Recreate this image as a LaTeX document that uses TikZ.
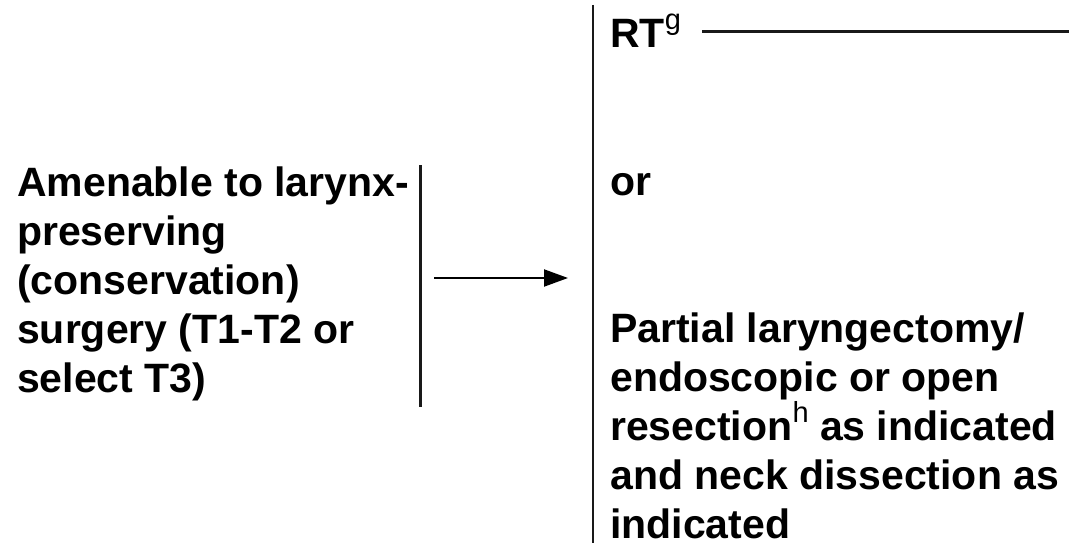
\documentclass[tikz,border=0pt]{standalone}
\usepackage{fontspec}
\setmainfont{Liberation Sans}
\usetikzlibrary{arrows.meta}
\newcommand{\supx}[1]{\raisebox{18pt}{\fontsize{29}{29}\selectfont\mdseries #1}}
\tikzset{
  txt/.style={anchor=base west, inner sep=0pt, align=left,
    font=\fontsize{41}{49}\selectfont\bfseries},
  rule/.style={line width=2.2pt, draw=black!90},
  arr/.style={line width=2pt, -{Triangle[length=24pt,width=17pt]}}
}
\begin{document}
\begin{tikzpicture}[x=1pt,y=-1pt]
\useasboundingbox (0,0) rectangle (1069,543);
% multi-line nodes: base anchor is the baseline of the last line
\node[txt] (amen) at (17,392) {Amenable to larynx-\\preserving\\(conservation)\\surgery (T1-T2 or\\select T3)};
\node[txt] (rt) at (610,48) {RT\supx{g}};
\node[txt] (or) at (610,195) {or};
\node[txt] (part) at (610,538) {Partial laryngectomy/\\endoscopic or open\\resection\supx{h} as indicated\\and neck dissection as\\indicated};
\coordinate (lt) at (420.5,165);
\coordinate (lb) at (420.5,407);
\coordinate (rtop) at (593,5);
\coordinate (rbot) at (593,543);
\coordinate (as) at (434,278);
\coordinate (ae) at (568,278);
\coordinate (rts) at (702,31.5);
\coordinate (rte) at (1069,31.5);
\draw[rule] (lt) -- (lb);
\draw[rule] (rtop) -- (rbot);
\draw[arr] (as) -- (ae);
\draw[rule] (rts) -- (rte);
\end{tikzpicture}
\end{document}
